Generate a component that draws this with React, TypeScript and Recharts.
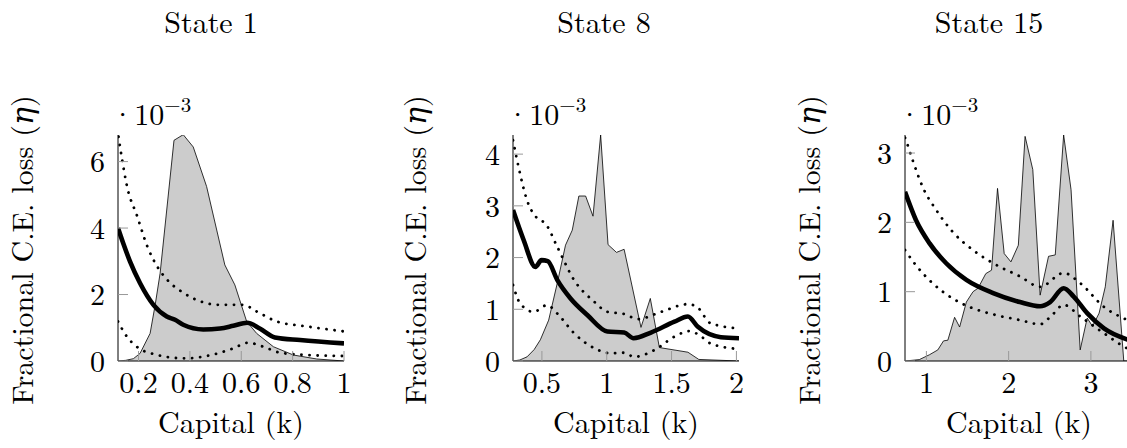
import React from 'react';
import { ComposedChart, Area, Line, XAxis, YAxis } from 'recharts';

const FONT = '"Latin Modern Roman", "DejaVu Serif", serif';
const FS = 30;

// values are in units of 1e-3 (see the axis multiplier)
const state1Density: [number, number][] = [
  [0.12, 0], [0.15, 0.02], [0.18, 0.07], [0.206, 0.23], [0.245, 0.83], [0.265, 1.7], [0.284, 2.64],
  [0.338, 6.64], [0.374, 6.81], [0.413, 6.44], [0.465, 5.25], [0.536, 2.89], [0.575, 2.29],
  [0.621, 1.19], [0.66, 0.83], [0.725, 0.43], [0.803, 0.18], [0.894, 0.06], [1.0, 0],
];
const state1Loss: [number, number][] = [
  [0.12, 4.0], [0.14, 3.55], [0.167, 2.99], [0.206, 2.34], [0.258, 1.69], [0.31, 1.34], [0.342, 1.24],
  [0.374, 1.09], [0.452, 0.95], [0.517, 0.98], [0.569, 1.06], [0.623, 1.15], [0.672, 0.98],
  [0.731, 0.71], [0.829, 0.63], [1.0, 0.53],
];
const state1Upper: [number, number][] = [
  [0.122, 6.75], [0.136, 6.06], [0.155, 5.26], [0.195, 4.35], [0.234, 3.45], [0.273, 2.84],
  [0.312, 2.44], [0.377, 2.04], [0.443, 1.79], [0.508, 1.69], [0.608, 1.69], [0.66, 1.49],
  [0.738, 1.19], [0.855, 1.04], [1.0, 0.89],
];
const state1Lower: [number, number][] = [
  [0.12, 1.19], [0.154, 0.74], [0.193, 0.43], [0.258, 0.21], [0.38, 0.08], [0.465, 0.15],
  [0.569, 0.38], [0.627, 0.55], [0.686, 0.43], [0.751, 0.25], [0.855, 0.18], [1.0, 0.15],
];

const state8Density: [number, number][] = [
  [0.277, 0], [0.33, 0.02], [0.385, 0.08], [0.44, 0.22], [0.488, 0.41], [0.552, 0.79], [0.618, 1.5],
  [0.682, 2.24], [0.734, 2.53], [0.785, 3.19], [0.837, 3.19], [0.894, 2.8], [0.953, 4.37],
  [1.01, 2.25], [1.075, 2.1], [1.134, 2.16], [1.264, 0.65], [1.336, 1.21], [1.406, 0.26],
  [1.626, 0.17], [1.71, 0.03], [2.02, 0],
];
const state8Loss: [number, number][] = [
  [0.277, 2.92], [0.359, 2.34], [0.45, 1.82], [0.497, 1.95], [0.545, 1.93], [0.618, 1.57],
  [0.721, 1.21], [0.85, 0.89], [1.005, 0.57], [1.134, 0.55], [1.207, 0.44], [1.341, 0.55],
  [1.522, 0.76], [1.626, 0.86], [1.703, 0.66], [1.88, 0.46], [2.02, 0.44],
];
const state8Upper: [number, number][] = [
  [0.277, 4.27], [0.32, 3.75], [0.385, 3.11], [0.463, 2.76], [0.527, 2.66], [0.618, 2.21],
  [0.747, 1.57], [0.902, 1.15], [1.005, 0.95], [1.134, 0.91], [1.238, 0.81], [1.419, 0.95],
  [1.626, 1.1], [1.703, 1.03], [1.8, 0.73], [2.02, 0.63],
];
const state8Lower: [number, number][] = [
  [0.277, 1.47], [0.333, 1.11], [0.436, 0.95], [0.54, 1.08], [0.618, 0.92], [0.747, 0.54],
  [0.902, 0.25], [1.031, 0.15], [1.134, 0.16], [1.212, 0.08], [1.367, 0.21], [1.522, 0.47],
  [1.638, 0.58], [1.73, 0.47], [1.8, 0.34], [2.02, 0.23],
];

const state15Density: [number, number][] = [
  [0.74, 0], [0.914, 0.02], [1.037, 0.09], [1.139, 0.16], [1.208, 0.29], [1.261, 0.3], [1.343, 0.63],
  [1.404, 0.49], [1.486, 0.85], [1.567, 1.0], [1.628, 1.05], [1.722, 1.26], [1.792, 1.31],
  [1.865, 2.49], [1.946, 1.55], [2.028, 1.43], [2.118, 1.67], [2.2, 3.24], [2.294, 2.76],
  [2.383, 0.95], [2.485, 1.51], [2.567, 1.53], [2.669, 3.26], [2.759, 2.47], [2.87, 0.16],
  [2.955, 0.62], [3.02, 0.5], [3.1, 0.69], [3.175, 1.07], [3.27, 2.03], [3.4, 0], [3.5, 0],
];
const state15Loss: [number, number][] = [
  [0.74, 2.44], [0.874, 2.03], [1.037, 1.7], [1.241, 1.41], [1.486, 1.17], [1.812, 0.98],
  [2.138, 0.85], [2.383, 0.79], [2.505, 0.85], [2.669, 1.05], [2.791, 0.93], [2.955, 0.69],
  [3.159, 0.47], [3.445, 0.31], [3.5, 0.29],
];
const state15Upper: [number, number][] = [
  [0.74, 3.22], [0.759, 3.16], [0.832, 2.9], [0.955, 2.51], [1.119, 2.18], [1.322, 1.86],
  [1.567, 1.6], [1.812, 1.41], [2.138, 1.22], [2.383, 1.07], [2.669, 1.27], [2.873, 1.12],
  [3.159, 0.78], [3.445, 0.59], [3.5, 0.56],
];
const state15Lower: [number, number][] = [
  [0.74, 1.6], [0.874, 1.38], [1.078, 1.12], [1.322, 0.9], [1.567, 0.76], [1.853, 0.66],
  [2.138, 0.59], [2.383, 0.53], [2.526, 0.66], [2.669, 0.81], [2.873, 0.64], [3.159, 0.4],
  [3.445, 0.18], [3.5, 0.15],
];

const state1XTicks = [0.2, 0.4, 0.6, 0.8, 1];
const state8XTicks = [0.5, 1, 1.5, 2];
const state15XTicks = [1, 2, 3];
const state1YTicks = [0, 2, 4, 6];
const state8YTicks = [0, 1, 2, 3, 4];
const state15YTicks = [0, 1, 2, 3];

const toPoints = (pairs: [number, number][]) => pairs.map(([k, v]) => ({ k, v }));

interface PanelProps {
  left: number;
  width: number;
  marginLeft: number;
  marginRight: number;
  xDomain: [number, number];
  xTicks: number[];
  yDomain: [number, number];
  yTicks: number[];
  density: [number, number][];
  loss: [number, number][];
  upper: [number, number][];
  lower: [number, number][];
}

const tickStyle = { fill: '#000', fontSize: FS, style: { fontFamily: FONT } };
const txt = { fontFamily: FONT };

const Panel: React.FC<PanelProps> = (p) => (
  <div style={{ position: 'absolute', left: p.left, top: 0 }}>
    <ComposedChart
      width={p.width}
      height={448}
      margin={{ top: 135, right: p.marginRight, bottom: 57, left: p.marginLeft }}
      style={{ fontFamily: FONT }}
    >
      <Area
        data={toPoints(p.density)}
        dataKey="v"
        type="linear"
        fill="#cccccc"
        fillOpacity={1}
        stroke="#000"
        strokeWidth={0.8}
        dot={false}
        activeDot={false}
        isAnimationActive={false}
      />
      <Line
        data={toPoints(p.upper)}
        dataKey="v"
        type="monotone"
        stroke="#000"
        strokeWidth={2.8}
        strokeDasharray="0.1 8"
        strokeLinecap="round"
        dot={false}
        activeDot={false}
        isAnimationActive={false}
      />
      <Line
        data={toPoints(p.lower)}
        dataKey="v"
        type="monotone"
        stroke="#000"
        strokeWidth={2.8}
        strokeDasharray="0.1 8"
        strokeLinecap="round"
        dot={false}
        activeDot={false}
        isAnimationActive={false}
      />
      <Line
        data={toPoints(p.loss)}
        dataKey="v"
        type="monotone"
        stroke="#000"
        strokeWidth={4.6}
        dot={false}
        activeDot={false}
        isAnimationActive={false}
      />
      <XAxis
        type="number"
        dataKey="k"
        domain={p.xDomain}
        ticks={p.xTicks}
        interval={0}
        allowDataOverflow
        height={30}
        tickSize={-10}
        tickMargin={21}
        axisLine={{ stroke: '#000', strokeWidth: 1 }}
        tickLine={{ stroke: '#999', strokeWidth: 1 }}
        tick={tickStyle}
        tickFormatter={(v: number) => String(v)}
      />
      <YAxis
        type="number"
        domain={p.yDomain}
        ticks={p.yTicks}
        interval={0}
        allowDataOverflow
        width={40}
        tickSize={-10}
        tickMargin={23}
        axisLine={{ stroke: '#000', strokeWidth: 1 }}
        tickLine={{ stroke: '#999', strokeWidth: 1 }}
        tick={tickStyle}
      />
    </ComposedChart>
  </div>
);

const titles = [
  { text: 'State 1', x: 211 },
  { text: 'State 8', x: 604 },
  { text: 'State 15', x: 989 },
];
const yLabelX = [33, 426, 820];
const xLabelX = [231, 626, 1019];
const multiplierX = [111, 506, 898];

export default function App() {
  return (
    <div style={{ position: 'absolute', left: 0, top: 0, width: 1127, height: 448, overflow: 'hidden', background: '#fff' }}>
      <Panel
        left={0}
        width={376}
        marginLeft={78}
        marginRight={32}
        xDomain={[0.12, 1.0]}
        xTicks={state1XTicks}
        yDomain={[0, 6.8]}
        yTicks={state1YTicks}
        density={state1Density}
        loss={state1Loss}
        upper={state1Upper}
        lower={state1Lower}
      />
      <Panel
        left={376}
        width={376}
        marginLeft={97}
        marginRight={13}
        xDomain={[0.277, 2.02]}
        xTicks={state8XTicks}
        yDomain={[0, 4.37]}
        yTicks={state8YTicks}
        density={state8Density}
        loss={state8Loss}
        upper={state8Upper}
        lower={state8Lower}
      />
      <Panel
        left={752}
        width={380}
        marginLeft={113}
        marginRight={0}
        xDomain={[0.74, 3.5]}
        xTicks={state15XTicks}
        yDomain={[0, 3.26]}
        yTicks={state15YTicks}
        density={state15Density}
        loss={state15Loss}
        upper={state15Upper}
        lower={state15Lower}
      />
      <svg
        width={1127}
        height={448}
        style={{ position: 'absolute', left: 0, top: 0, pointerEvents: 'none' }}
        fill="#000"
      >
        {titles.map((t) => (
          <text key={t.text} x={t.x} y={33} fontSize={FS} textAnchor="middle" style={txt}>{t.text}</text>
        ))}
        {yLabelX.map((x, i) => (
          <text key={'y' + i} x={x} y={250} fontSize={FS} textAnchor="middle" style={txt} transform={`rotate(-90 ${x} 250)`}>
            Fractional C.E. loss (<tspan fontStyle="italic">η</tspan>)
          </text>
        ))}
        {xLabelX.map((x, i) => (
          <text key={'x' + i} x={x} y={433} fontSize={FS} textAnchor="middle" style={txt}>Capital (k)</text>
        ))}
        {multiplierX.map((x, i) => (
          <text key={'m' + i} x={x} y={125} fontSize={FS} style={txt}>
            ·10<tspan fontSize={21} dy={-13}>−3</tspan>
          </text>
        ))}
      </svg>
    </div>
  );
}
